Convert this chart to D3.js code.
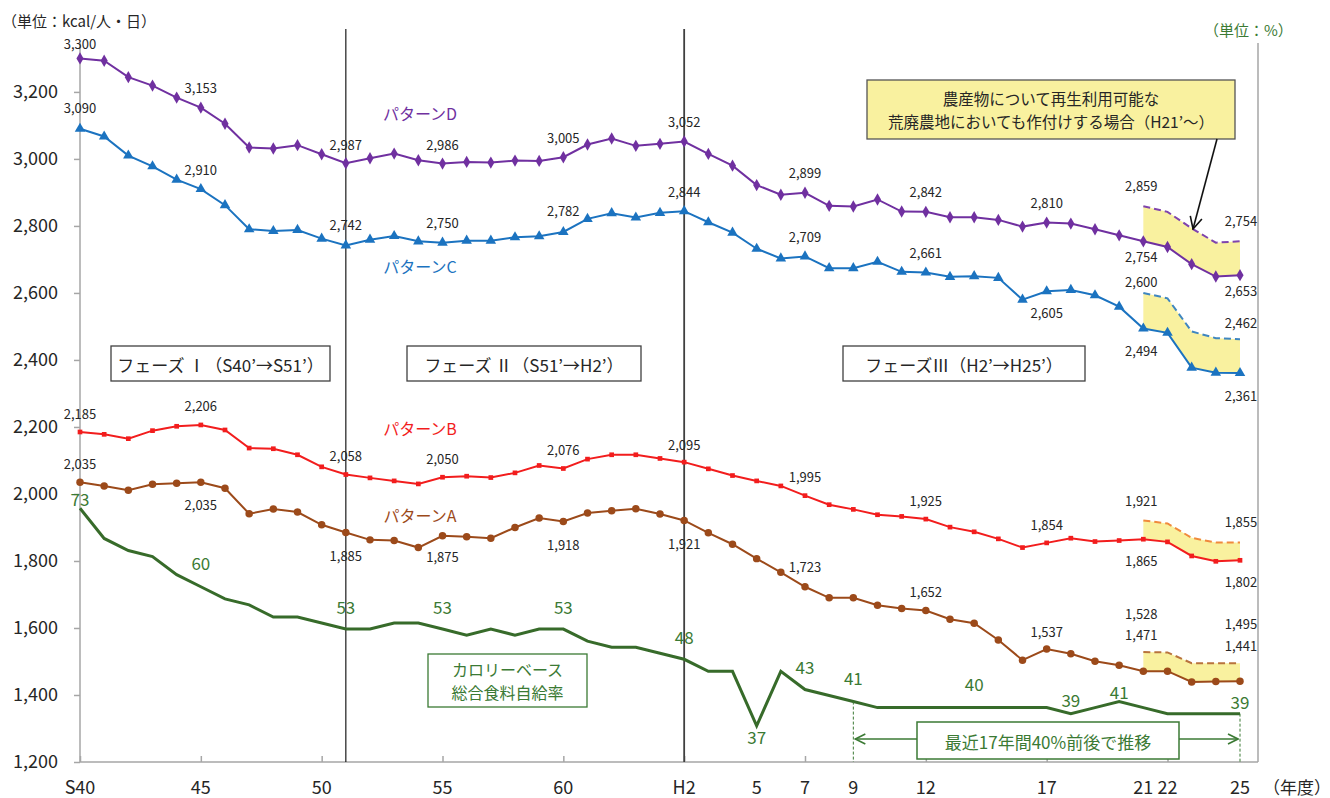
<!DOCTYPE html>
<html><head><meta charset="utf-8">
<script src="https://cdn.jsdelivr.net/npm/d3@7"></script>
<style>
body{margin:0;background:#fff}
svg{display:block}
text{font-family:"Noto Sans CJK JP","Noto Sans",sans-serif}
</style>
</head><body>
<svg id="c" width="1330" height="798"></svg>
<script>
// ---------------- DATA ----------------
const years = [1965,1966,1967,1968,1969,1970,1971,1972,1973,1974,1975,1976,1977,1978,1979,1980,1981,1982,1983,1984,1985,1986,1987,1988,1989,1990,1991,1992,1993,1994,1995,1996,1997,1998,1999,2000,2001,2002,2003,2004,2005,2006,2007,2008,2009,2010,2011,2012,2013];

const patternD = [3300,3293,3244,3219,3183,3153,3105,3034,3031,3041,3014,2987,3002,3016,2996,2986,2991,2989,2995,2994,3005,3043,3061,3039,3045,3052,3015,2980,2922,2893,2899,2860,2858,2879,2843,2842,2826,2826,2818,2798,2810,2807,2790,2772,2754,2737,2686,2649,2653];
const patternC = [3090,3067,3010,2978,2938,2910,2862,2790,2785,2788,2762,2742,2759,2770,2754,2750,2756,2756,2766,2769,2782,2821,2838,2825,2839,2844,2811,2780,2732,2703,2709,2674,2674,2693,2663,2661,2648,2650,2645,2580,2605,2609,2593,2559,2494,2481,2377,2362,2361];
const patternB = [2185,2178,2165,2189,2202,2206,2191,2137,2135,2117,2081,2058,2048,2039,2030,2050,2053,2049,2063,2085,2076,2104,2117,2117,2106,2095,2075,2055,2039,2024,1995,1968,1954,1938,1933,1925,1901,1887,1866,1840,1854,1868,1858,1861,1865,1857,1815,1799,1802];
const patternA = [2035,2024,2011,2029,2032,2035,2017,1941,1955,1946,1908,1885,1863,1861,1840,1875,1872,1868,1900,1928,1918,1943,1950,1956,1940,1921,1884,1850,1807,1766,1723,1690,1690,1668,1658,1652,1626,1614,1564,1504,1537,1523,1501,1489,1471,1471,1439,1440,1441];

// with cultivation of abandoned farmland (H21'~)
const upperYears = [2009,2010,2011,2012,2013];
const upperD = [2859,2842,2793,2750,2754];
const upperC = [2600,2584,2485,2465,2462];
const upperB = [1921,1912,1869,1855,1855];
const upperA = [1528,1527,1495,1495,1495];

// calorie-based food self-sufficiency ratio (%)
const selfSufficiency = [73,68,66,65,62,60,58,57,55,55,54,53,53,54,54,53,52,53,52,53,53,51,50,50,49,48,46,46,37,46,43,42,41,40,40,40,40,40,40,40,40,39,40,41,40,39,39,39,39];

const xTickYears  = [1965,1970,1975,1980,1985,1990,1993,1995,1997,2000,2005,2009,2010,2013];
const xTickLabels = ["S40","45","50","55","60","H2","5","7","9","12","17","21","22","25"];
const xMarkYears  = [1965,1970,1975,1980,1985,1990,1995,2000,2005,2010];
const yTicks = [1200,1400,1600,1800,2000,2200,2400,2600,2800,3000,3200];

const mainLabelYears = [1965,1970,1976,1980,1985,1990,1995,2000,2005];
const endLabelYears = [2009,2013];
const greenLabelYears = [1965,1970,1976,1980,1985,1990,1993,1995,1997,2002,2006,2008,2013];

const phaseYears = [1976,1990];

// ---------------- CHART ----------------
const svg = d3.select("#c");
const plotTop = 43, plotBottom = 762, plotLeft = 80, plotRight = 1258;

const x = d3.scaleLinear().domain([1965,2013]).range([80,1240]);
const y = d3.scaleLinear().domain([1200,3346]).range([plotBottom, plotTop]);
const yR = d3.scaleLinear().domain([31,150]).range([plotBottom, plotTop]);

const fmt = d3.format(",");
const axisGrey = "#a6a6a6";

// axes frame
svg.append("line").attr("x1",plotLeft).attr("x2",plotLeft).attr("y1",plotTop).attr("y2",plotBottom).attr("stroke",axisGrey).attr("stroke-width",1.5);
svg.append("line").attr("x1",plotRight).attr("x2",plotRight).attr("y1",plotTop).attr("y2",plotBottom).attr("stroke",axisGrey).attr("stroke-width",1.5);
svg.append("line").attr("x1",plotLeft).attr("x2",plotRight).attr("y1",plotBottom).attr("y2",plotBottom).attr("stroke",axisGrey).attr("stroke-width",1.5);

const yAxis = d3.axisLeft(y).tickValues(yTicks).tickFormat(fmt).tickSize(6).tickPadding(16);
const gy = svg.append("g").attr("transform",`translate(${plotLeft},0)`).call(yAxis);
gy.select(".domain").remove();
gy.selectAll(".tick line").attr("stroke",axisGrey).attr("stroke-width",1.5);
gy.selectAll(".tick text").attr("font-size",18).attr("fill","#262626").style("font-family","'Noto Sans CJK JP'");

// x tick marks (inside) every 5 years
const gx = svg.append("g").attr("transform",`translate(0,${plotBottom})`)
  .call(d3.axisBottom(x).tickValues(xMarkYears).tickSize(-6).tickFormat(""));
gx.select(".domain").remove();
gx.selectAll(".tick line").attr("stroke",axisGrey).attr("stroke-width",1.5);
// x labels
svg.append("g").selectAll("text").data(xTickYears).join("text")
  .attr("x",d=>x(d)).attr("y",786).attr("text-anchor","middle").attr("dominant-baseline","central")
  .attr("font-size",18).attr("fill","#262626").text((d,i)=>xTickLabels[i]);

svg.append("text").attr("x",1263).attr("y",786).attr("dominant-baseline","central").attr("font-size",17).attr("fill","#262626").text("（年度）");
svg.append("text").attr("x",2).attr("y",20).attr("dominant-baseline","central").attr("font-size",15).attr("fill","#262626").text("（単位：kcal/人・日）");
svg.append("text").attr("x",1204).attr("y",29).attr("dominant-baseline","central").attr("font-size",15).attr("fill","#3b7a34").text("（単位：%）");

// phase separator lines
svg.append("g").selectAll("line").data(phaseYears).join("line")
  .attr("x1",d=>x(d)).attr("x2",d=>x(d)).attr("y1",29).attr("y2",plotBottom)
  .attr("stroke",(d,i)=>i===0?"#1a1a1a":"#404040").attr("stroke-width",(d,i)=>i===0?1.2:1.8);

// phase boxes
const phases = [
  {t:"フェーズ Ⅰ（S40’→S51’）", x0:111, x1:330},
  {t:"フェーズ Ⅱ（S51’→H2’）", x0:407, x1:641},
  {t:"フェーズⅢ（H2’→H25’）", x0:843, x1:1085}
];
phases.forEach(p=>{
  svg.append("rect").attr("x",p.x0).attr("y",346).attr("width",p.x1-p.x0).attr("height",35)
    .attr("fill","#fff").attr("stroke","#404040").attr("stroke-width",1.3);
  svg.append("text").attr("x",(p.x0+p.x1)/2).attr("y",364).attr("text-anchor","middle").attr("dominant-baseline","central")
    .attr("font-size",17).attr("fill","#262626").text(p.t);
});

// ---------- series ----------
const series = [
  {vals:patternD, up:upperD, color:"#7030A0", dash:"#7f44ad", sym:d3.symbolDiamond, size:44, name:"パターンD", ny:113},
  {vals:patternC, up:upperC, color:"#1b73c0", dash:"#3f86c0", sym:d3.symbolTriangle, size:48, name:"パターンC", ny:266},
  {vals:patternB, up:upperB, color:"#f21d1d", dash:"#f08a3c", sym:d3.symbolSquare, size:22, name:"パターンB", ny:428},
  {vals:patternA, up:upperA, color:"#9c4a1a", dash:"#b8733c", sym:d3.symbolCircle, size:44, name:"パターンA", ny:515}
];

// yellow areas
const area = d3.area().x(d=>x(d.yr)).y0(d=>y(d.lo)).y1(d=>y(d.hi));
series.forEach(s=>{
  const pts = upperYears.map((yr,i)=>({yr, lo:s.vals[years.indexOf(yr)], hi:s.up[i]}));
  svg.append("path").datum(pts).attr("d",area).attr("fill","#f9f19f");
});
// dashed upper lines
const lineU = d3.line().x((d,i)=>x(upperYears[i])).y(d=>y(d));
series.forEach(s=>{
  svg.append("path").datum(s.up).attr("d",lineU).attr("fill","none")
    .attr("stroke",s.dash).attr("stroke-width",2).attr("stroke-dasharray","7,4");
});

// green self-sufficiency line
const lineG = d3.line().x((d,i)=>x(years[i])).y(d=>yR(d));
svg.append("path").datum(selfSufficiency).attr("d",lineG).attr("fill","none")
  .attr("stroke","#376b2a").attr("stroke-width",3).attr("stroke-linejoin","miter");

// solid lines + markers
const lineM = d3.line().x((d,i)=>x(years[i])).y(d=>y(d));
series.forEach(s=>{
  svg.append("path").datum(s.vals).attr("d",lineM).attr("fill","none")
    .attr("stroke",s.color).attr("stroke-width",2);
  svg.append("g").selectAll("path").data(s.vals).join("path")
    .attr("d",d3.symbol().type(s.sym).size(s.size))
    .attr("transform",(d,i)=>`translate(${x(years[i])},${y(d)})`)
    .attr("fill",s.color);
  svg.append("text").attr("x",420).attr("y",s.ny).attr("text-anchor","middle").attr("dominant-baseline","central")
    .attr("font-size",16).attr("fill",s.color).text(s.name);
});

// data labels
const mainDy = [
  [-15,-20,-19,-19,-20,-20,-20,-20,-20],
  [-21,-20,-21,-20,-21,-20,-20,-20,21],
  [-18,-19,-19,-19,-19,-18,-19,-19,-18],
  [-19,22,23,21,23,23,-20,-19,-18]
];
const endLowDy = [[15,15],[22,22],[21,21],[-37,-36]];
const endUpDy  = [[-21,-21],[-11,-17],[-20,-21],[-39,-40]];
const endDx = [-2,1];
const lab = svg.append("g").attr("font-size",13).attr("fill","#262626").attr("text-anchor","middle").attr("dominant-baseline","central");
series.forEach((s,si)=>{
  mainLabelYears.forEach((yr,k)=>{
    const v = s.vals[years.indexOf(yr)];
    lab.append("text").attr("x",x(yr)).attr("y",y(v)+mainDy[si][k]).text(fmt(v));
  });
  endLabelYears.forEach((yr,k)=>{
    const v = s.vals[years.indexOf(yr)];
    lab.append("text").attr("x",x(yr)+endDx[k]).attr("y",y(v)+endLowDy[si][k]).text(fmt(v));
    const u = s.up[upperYears.indexOf(yr)];
    lab.append("text").attr("x",x(yr)+endDx[k]).attr("y",y(u)+endUpDy[si][k]).text(fmt(u));
  });
});
// green labels
const greenDy = [-10,-24,-23,-23,-23,-23,11,-23,-24,-24,-14,-10,-12];
svg.append("g").selectAll("text").data(greenLabelYears).join("text")
  .attr("x",d=>x(d)).attr("y",(d,i)=>yR(selfSufficiency[years.indexOf(d)])+greenDy[i])
  .attr("text-anchor","middle").attr("dominant-baseline","central")
  .attr("font-size",17).attr("fill","#3b7a34")
  .text(d=>selfSufficiency[years.indexOf(d)]);

// green label box
svg.append("rect").attr("x",428).attr("y",654).attr("width",159).attr("height",53)
  .attr("fill","#fff").attr("stroke","#3b7a34").attr("stroke-width",1.3);
svg.append("text").attr("x",507.5).attr("y",669).attr("text-anchor","middle").attr("dominant-baseline","central")
  .attr("font-size",16).attr("fill","#3b7a34").text("カロリーベース");
svg.append("text").attr("x",507.5).attr("y",692).attr("text-anchor","middle").attr("dominant-baseline","central")
  .attr("font-size",16).attr("fill","#3b7a34").text("総合食料自給率");

// 17-year bracket
const defs = svg.append("defs");
defs.append("marker").attr("id","gArr").attr("viewBox","0 0 12 12").attr("refX",11).attr("refY",6)
  .attr("markerWidth",12).attr("markerHeight",12).attr("markerUnits","userSpaceOnUse").attr("orient","auto-start-reverse")
  .append("path").attr("d","M1,1 L11,6 L1,11").attr("fill","none").attr("stroke","#3b7a34").attr("stroke-width",1.6);
defs.append("marker").attr("id","kArr").attr("viewBox","0 0 14 14").attr("refX",13).attr("refY",7)
  .attr("markerWidth",14).attr("markerHeight",14).attr("markerUnits","userSpaceOnUse").attr("orient","auto")
  .append("path").attr("d","M1,1 L13,7 L1,13").attr("fill","none").attr("stroke","#111").attr("stroke-width",1.6);

[1997,2013].forEach(yr=>{
  svg.append("line").attr("x1",x(yr)).attr("x2",x(yr)).attr("y1",yR(selfSufficiency[years.indexOf(yr)])).attr("y2",plotBottom)
    .attr("stroke","#3b7a34").attr("stroke-width",1).attr("stroke-dasharray","3,2");
});
svg.append("line").attr("x1",x(1997)+2).attr("x2",x(2013)-2).attr("y1",739).attr("y2",739)
  .attr("stroke","#3b7a34").attr("stroke-width",1.6)
  .attr("marker-start","url(#gArr)").attr("marker-end","url(#gArr)");
svg.append("rect").attr("x",917).attr("y",722).attr("width",262).attr("height",37)
  .attr("fill","#fff").attr("stroke","#3b7a34").attr("stroke-width",1.5);
svg.append("text").attr("x",1048).attr("y",741).attr("text-anchor","middle").attr("dominant-baseline","central")
  .attr("font-size",17).attr("fill","#3b7a34").text("最近17年間40%前後で推移");

// yellow callout
svg.append("rect").attr("x",867).attr("y",80).attr("width",368).attr("height",59)
  .attr("fill","#f9f19f").attr("stroke","#555").attr("stroke-width",1.3);
svg.append("text").attr("x",1051).attr("y",98).attr("text-anchor","middle").attr("dominant-baseline","central")
  .attr("font-size",15.5).attr("fill","#262626").text("農産物について再生利用可能な");
svg.append("text").attr("x",1051).attr("y",121).attr("text-anchor","middle").attr("dominant-baseline","central")
  .attr("font-size",15.5).attr("fill","#262626").text("荒廃農地においても作付けする場合（H21’～）");
svg.append("line").attr("x1",1217).attr("y1",139).attr("x2",1193).attr("y2",229)
  .attr("stroke","#111").attr("stroke-width",1.6).attr("marker-end","url(#kArr)");
</script>
</body></html>
